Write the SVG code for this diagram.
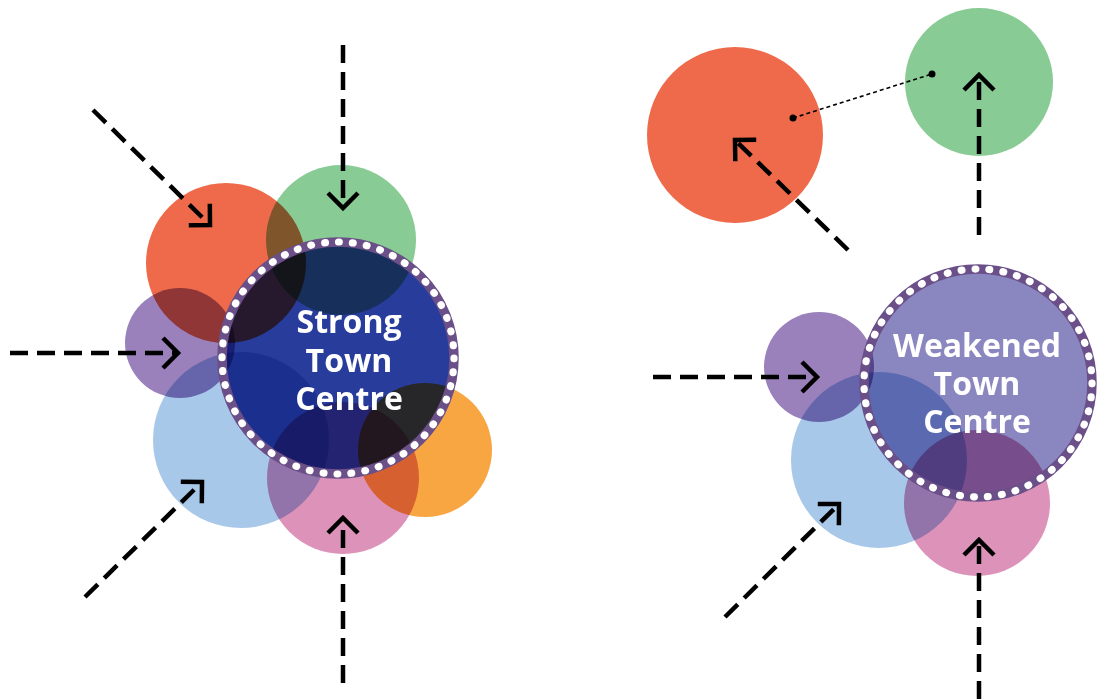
<svg xmlns="http://www.w3.org/2000/svg" width="1100" height="699" viewBox="0 0 1100 699">
<style>
.c{mix-blend-mode:multiply}
.red{fill:#ee6a4a}.green{fill:#88cb94}.purple{fill:#9a81bc}.lblue{fill:#a8c8ea}.pink{fill:#dd93b9}.orange{fill:#f8a642}
.ring{fill:none;stroke:#6b4f88;stroke-width:9.5}
.dots{fill:none;stroke:#ffffff;stroke-width:7.2;stroke-linecap:round}
.lbl{font-family:"Open Sans","DejaVu Sans",sans-serif;font-weight:700;font-size:32px;fill:#ffffff;text-anchor:middle}
.arr{fill:none;stroke:#000;stroke-width:4.5;stroke-dasharray:18 9;marker-end:url(#chev)}
.thin{fill:none;stroke:#000;stroke-width:1.6;stroke-dasharray:4 3}
</style>
<defs>
<marker id="chev" markerUnits="userSpaceOnUse" markerWidth="40" markerHeight="40" viewBox="-20 -20 40 40" refX="0" refY="0" orient="auto">
<path d="M-15,-15 L0,0 L-15,15" fill="none" stroke="#000" stroke-width="4.5" stroke-dasharray="none" stroke-linecap="butt" stroke-linejoin="miter"/>
</marker>
</defs>
<rect width="1100" height="699" fill="#ffffff"/>

<g id="strong-cluster">
<g id="s-red"><circle class="c red" cx="226" cy="263" r="80"/></g>
<g id="s-green"><circle class="c green" cx="341" cy="240" r="75"/></g>
<g id="s-purple"><circle class="c purple" cx="180" cy="343" r="55"/></g>
<g id="s-lblue"><circle class="c lblue" cx="241" cy="440" r="88"/></g>
<g id="s-pink"><circle class="c pink" cx="343" cy="478" r="76"/></g>
<g id="s-orange"><circle class="c orange" cx="425" cy="450" r="67"/></g>
<g id="strong-centre">
<circle class="c" cx="338" cy="358" r="116" fill="#283c9c"/>
<circle class="ring" cx="338" cy="358" r="116"/>
<circle class="dots" cx="338" cy="358" r="116" stroke-dasharray="0.8 13.216"/>
<text class="lbl" x="349" y="333">Strong<tspan x="349" dy="39">Town</tspan><tspan x="349" dy="38">Centre</tspan></text>
</g>
</g>

<g id="weak-cluster">
<g id="w-red"><circle class="c red" cx="735" cy="135" r="88"/></g>
<g id="w-green"><circle class="c green" cx="979" cy="82" r="74"/></g>
<g id="w-purple"><circle class="c purple" cx="819" cy="367" r="55"/></g>
<g id="w-lblue"><circle class="c lblue" cx="879" cy="460" r="88"/></g>
<g id="w-pink"><circle class="c pink" cx="977" cy="503" r="73"/></g>
<g id="weakened-centre">
<circle class="c" cx="978" cy="383" r="114" fill="#8986c0"/>
<circle class="ring" cx="978" cy="383" r="114"/>
<circle class="dots" cx="978" cy="383" r="114" stroke-dasharray="0.8 13.245"/>
<text class="lbl" x="977" y="357">Weakened<tspan x="977" dy="38">Town</tspan><tspan x="977" dy="38">Centre</tspan></text>
</g>
</g>

<g id="connectors">
<line class="arr" x1="93" y1="110" x2="210" y2="225"/>
<line class="arr" x1="343" y1="45" x2="343" y2="208"/>
<line class="arr" x1="10" y1="353" x2="178" y2="353"/>
<line class="arr" x1="85" y1="597" x2="202" y2="482"/>
<line class="arr" x1="343" y1="683" x2="343" y2="518"/>
<line class="arr" x1="848" y1="250" x2="735" y2="140"/>
<line class="arr" x1="979" y1="235" x2="979" y2="75"/>
<line class="arr" x1="653" y1="377" x2="817" y2="377"/>
<line class="arr" x1="725" y1="617" x2="839" y2="504"/>
<line class="arr" x1="979" y1="699" x2="979" y2="540"/>
<line class="thin" x1="793" y1="118" x2="932" y2="74"/>
<circle cx="793" cy="118" r="3.5" fill="#000"/>
<circle cx="932" cy="74" r="3.5" fill="#000"/>
</g>
</svg>
